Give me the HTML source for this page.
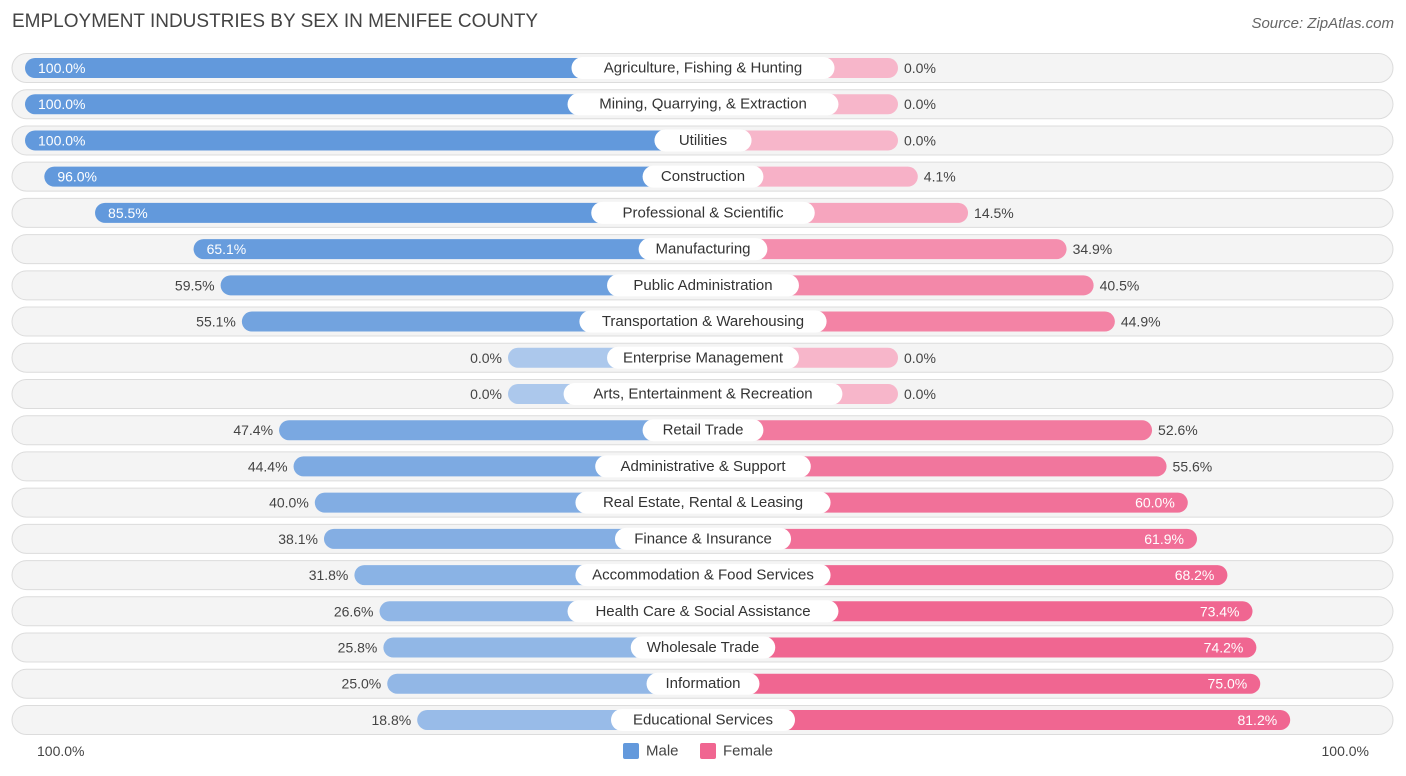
<!DOCTYPE html>
<html><head><meta charset="utf-8"><style>
body{margin:0;width:1406px;height:776px;background:#fff;font-family:"Liberation Sans",sans-serif;overflow:hidden;position:relative}
#title{position:absolute;left:12px;top:11px;font-size:19px;color:#444}
#source{position:absolute;right:12px;top:15px;font-size:15px;color:#666;font-style:italic}
svg{position:absolute;left:0;top:0}
</style></head><body>
<div id="title">EMPLOYMENT INDUSTRIES BY SEX IN MENIFEE COUNTY</div>
<div id="source">Source: ZipAtlas.com</div>
<svg id="chart" width="1406" height="776"></svg>
<script>
const categories=["Agriculture, Fishing & Hunting","Mining, Quarrying, & Extraction","Utilities","Construction","Professional & Scientific","Manufacturing","Public Administration","Transportation & Warehousing","Enterprise Management","Arts, Entertainment & Recreation","Retail Trade","Administrative & Support","Real Estate, Rental & Leasing","Finance & Insurance","Accommodation & Food Services","Health Care & Social Assistance","Wholesale Trade","Information","Educational Services"];
const maleValues=[100,100,100,96.0,85.5,65.1,59.5,55.1,0,0,47.4,44.4,40.0,38.1,31.8,26.6,25.8,25.0,18.8];
const femaleValues=[0,0,0,4.1,14.5,34.9,40.5,44.9,0,0,52.6,55.6,60.0,61.9,68.2,73.4,74.2,75.0,81.2];
const axisLabels=["100.0%","100.0%"];
const svg=document.getElementById('chart');
const NS="http://www.w3.org/2000/svg";
const cx=703,y0=68,step=36.22,minLen=195,k=4.83;
function len(v){return minLen+k*v;}
function yRow(i){return y0+i*step;}
function mix(a,b,t){return 'rgb('+a.map((c,i)=>Math.round(c+(b[i]-c)*t)).join(',')+')';}
function el(tag,attrs){const e=document.createElementNS(NS,tag);for(const a in attrs)e.setAttribute(a,attrs[a]);svg.appendChild(e);return e;}
function txt(x,y,s,anchor,fill,size){const t=el('text',{x:x,y:y,'text-anchor':anchor,fill:fill,'font-size':size||14,'font-family':'Liberation Sans, sans-serif','dominant-baseline':'central'});t.textContent=s;return t;}
const mPale=[172,200,236],mStrong=[98,153,220],fPale=[247,182,202],fStrong=[240,102,145];
categories.forEach((c,i)=>{
  const y=yRow(i);
  const bg=el('rect',{x:12,y:y-14.5,width:1381,height:29,rx:14.5,fill:'#f4f4f4',stroke:'#dcdcdc','stroke-width':1});
  
  
  const m=maleValues[i],f=femaleValues[i];
  const ml=len(m),fl=len(f);
  const mb=el('rect',{x:cx-ml,y:y-10,width:ml,height:20,rx:10,fill:mix(mPale,mStrong,Math.min(1,m/70))});
  
  
  const fb=el('rect',{x:cx,y:y-10,width:fl,height:20,rx:10,fill:mix(fPale,fStrong,Math.min(1,f/70))});
  
  
  const ms=m.toFixed(1)+'%',fs=f.toFixed(1)+'%';
  let mt=m>=60?txt(cx-ml+13,y,ms,'start','#fff'):txt(cx-ml-6,y,ms,'end','#444');
  
  
  let ft=f>=60?txt(cx+fl-13,y,fs,'end','#fff'):txt(cx+fl+6,y,fs,'start','#444');
  
  
  const w=c.length*7.9+26;
  const pill=el('rect',{x:cx-w/2,y:y-11,width:w,height:22,rx:11,fill:'#fff'});
  
  
  const ct=txt(cx,y,c,'middle','#333',15);
  
  
});
const al=txt(37,751,axisLabels[0],'start','#444');


const ar=txt(1369,751,axisLabels[1],'end','#444');


const lm=el('rect',{x:623,y:743,width:16,height:16,rx:2,fill:'#6399dc'});


const lmt=txt(646,751,'Male','start','#444',15);


const lf=el('rect',{x:700,y:743,width:16,height:16,rx:2,fill:'#f06691'});


const lft=txt(723,751,'Female','start','#444',15);


</script>
</body></html>
